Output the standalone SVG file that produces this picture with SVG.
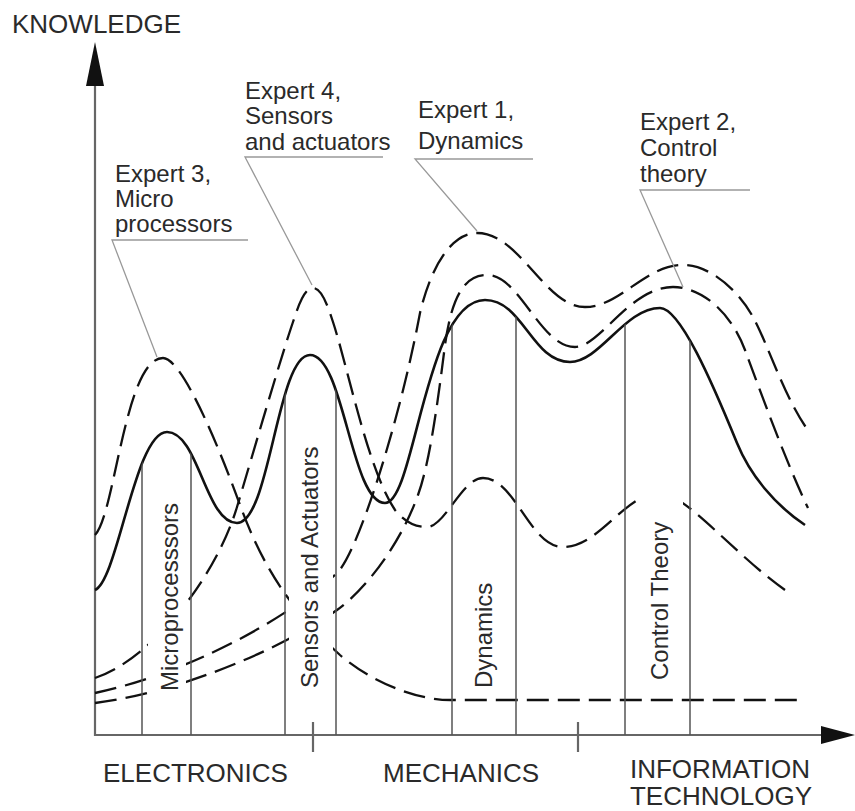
<svg xmlns="http://www.w3.org/2000/svg" width="855" height="811" viewBox="0 0 855 811">
<style>
.lbl{font-family:"Liberation Sans",Arial,sans-serif;font-size:24px;fill:#2a2a2a}
.cap{font-family:"Liberation Sans",Arial,sans-serif;font-size:26px;fill:#2a2a2a}
.rot{font-family:"Liberation Sans",Arial,sans-serif;font-size:24px;fill:#2a2a2a}
.axis{stroke:#666;stroke-width:2.2;fill:none}
.vl{stroke:#555;stroke-width:1.5;fill:none}
.solid{stroke:#111;stroke-width:2.6;fill:none}
.dash{stroke:#111;stroke-width:2.3;fill:none;stroke-dasharray:22 9}
.ptr{stroke:#999;stroke-width:1.3;fill:none}
.mask{fill:#fff;stroke:none}
</style>
<defs>
<clipPath id="under">
<path d="M95,590 C118,580 135,432 167,432 C198.5,432 205.5,523 237,523 C270,523 277,355 310,355 C344,355 351,503 385,503 C415,503 425,300 485,300 C523,300 532,362 570,362 C600,362 625,308 660,308 C680,308 712,382 737,443 C750,475 775,505 805,525 L805,740 L95,740 Z"/>
</clipPath>
</defs>
<g id="axes">
<line class="axis" x1="95" y1="736" x2="95" y2="82"/>
<polygon points="95,42 86,86 104,86" fill="#111"/>
<line class="axis" x1="94" y1="735" x2="826" y2="735"/>
<polygon points="855,735 821,726 821,744" fill="#111"/>
<line class="axis" x1="313" y1="722" x2="313" y2="752"/>
<line class="axis" x1="578" y1="722" x2="578" y2="752"/>
</g>
<g id="connectors">
<path id="total" class="solid" d="M95,590 C118,580 135,432 167,432 C198.5,432 205.5,523 237,523 C270,523 277,355 310,355 C344,355 351,503 385,503 C415,503 425,300 485,300 C523,300 532,362 570,362 C600,362 625,308 660,308 C680,308 712,382 737,443 C750,475 775,505 805,525"/>
<path id="expert3" class="dash" d="M95,535 C115,515 125,358 163,358 C183,358 222,455 240,505 C262,565 290,610 340,655 C375,685 420,700 450,700 L805,700"/>
<path id="expert4" class="dash" d="M95,678 C150,660 215,580 237,507 C252,457 280,360 293,322 C298,307 304,288 313,288 C322,288 328,307 333,322 C348,368 368,470 395,510 C405,522 415,527 427,527 C445,527 462,478 483,478 C515,478 530,547 563,547 C600,547 625,493 660,493 C685,493 735,555 785,590"/>
<path id="expert1" class="dash" d="M95,693 C180,675 280,625 337,573 C358,553 400,420 420,313 C430,270 450,233 477,233 C520,233 545,307 585,307 C620,307 645,265 683,265 C710,265 738,290 753,317 C768,344 785,400 810,433"/>
<path id="expert2" class="dash" d="M95,703 C180,692 280,650 337,610 C365,590 400,545 418,495 C430,462 438,400 445,345 C452,295 465,275 487,275 C520,275 540,347 575,347 C600,347 630,287 673,287 C700,287 730,310 745,350 C760,390 785,460 808,508"/>
<polyline class="ptr" points="248,240 112,240 157,357"/>
<polyline class="ptr" points="383,157 245,157 312,285"/>
<polyline class="ptr" points="533,159 415,159 477,231"/>
<polyline class="ptr" points="750,190 640,190 683,287"/>
</g>
<g id="masks">
<rect class="mask" x="148" y="470" width="38" height="235"/>
<rect class="mask" x="289" y="425" width="44" height="280"/>
<rect class="mask" x="458" y="570" width="52" height="122"/>
<rect class="mask" x="641" y="485" width="42" height="207"/>
</g>
<g id="dividers" clip-path="url(#under)">
<line class="vl" x1="142" y1="250" x2="142" y2="735"/>
<line class="vl" x1="191" y1="250" x2="191" y2="735"/>
<line class="vl" x1="285" y1="250" x2="285" y2="735"/>
<line class="vl" x1="336" y1="250" x2="336" y2="735"/>
<line class="vl" x1="452" y1="250" x2="452" y2="735"/>
<line class="vl" x1="516" y1="250" x2="516" y2="735"/>
<line class="vl" x1="625" y1="250" x2="625" y2="735"/>
<line class="vl" x1="690" y1="250" x2="690" y2="735"/>
</g>
<g id="label-knowledge"><text class="cap" x="12" y="33">KNOWLEDGE</text></g>
<g id="label-expert3"><text class="lbl" x="115" y="182">Expert 3,</text><text class="lbl" x="115" y="207">Micro</text><text class="lbl" x="115" y="232">processors</text></g>
<g id="label-expert4"><text class="lbl" x="245" y="99">Expert 4,</text><text class="lbl" x="245" y="124">Sensors</text><text class="lbl" x="245" y="150">and actuators</text></g>
<g id="label-expert1"><text class="lbl" x="418" y="118">Expert 1,</text><text class="lbl" x="418" y="149">Dynamics</text></g>
<g id="label-expert2"><text class="lbl" x="640" y="130">Expert 2,</text><text class="lbl" x="640" y="156">Control</text><text class="lbl" x="640" y="182">theory</text></g>
<g id="label-micro"><text class="rot" transform="translate(178,691) rotate(-90)">Microprocesssors</text></g>
<g id="label-sensors"><text class="rot" transform="translate(318,688) rotate(-90)">Sensors and Actuators</text></g>
<g id="label-dynamics"><text class="rot" transform="translate(492,688) rotate(-90)">Dynamics</text></g>
<g id="label-control"><text class="rot" transform="translate(668,680) rotate(-90)">Control Theory</text></g>
<g id="label-electronics"><text class="cap" x="103" y="782">ELECTRONICS</text></g>
<g id="label-mechanics"><text class="cap" x="383" y="782">MECHANICS</text></g>
<g id="label-it"><text class="cap" x="720" y="778" text-anchor="middle">INFORMATION</text><text class="cap" x="721" y="805" text-anchor="middle">TECHNOLOGY</text></g>
</svg>
